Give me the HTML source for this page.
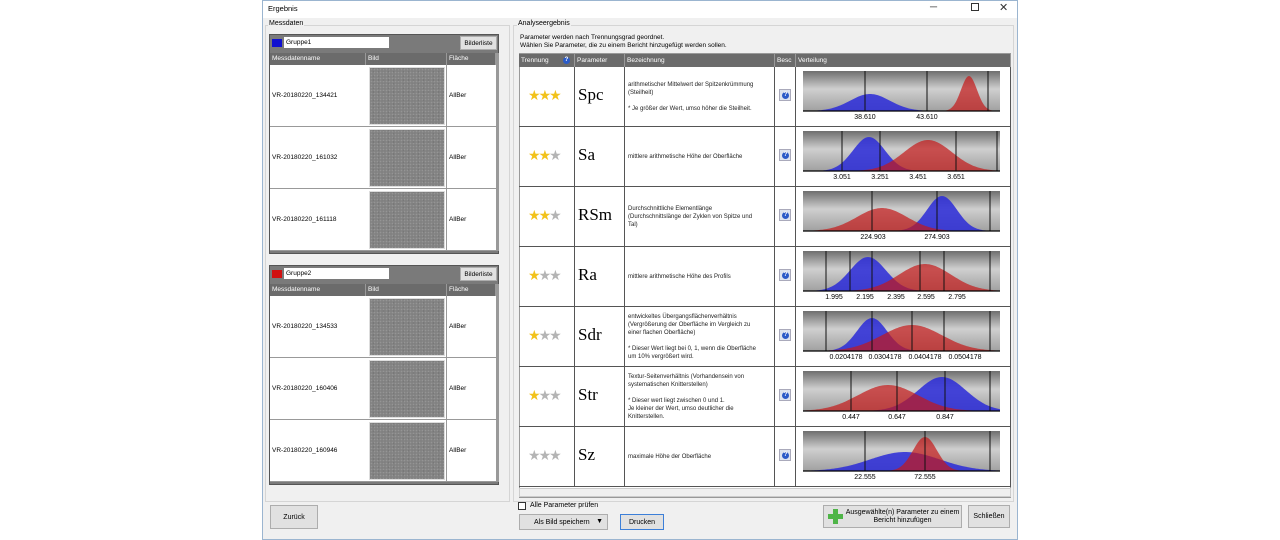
<!DOCTYPE html>
<html><head><meta charset="utf-8">
<style>
*{margin:0;padding:0;box-sizing:border-box}
body{width:1280px;height:540px;background:#fff;position:relative;overflow:hidden;font-family:"Liberation Sans",sans-serif;font-size:7px;color:#000}
.a{position:absolute}
.win{left:262px;top:0;width:756px;height:540px;background:#f0f0f0;border:1px solid #9bb5d0}
.btn{position:absolute;background:#e1e1e1;border:1px solid #adadad;text-align:center;font-size:7px;display:flex;align-items:center;justify-content:center}
.grp{position:absolute;border:1px solid #d5d5d5}
.hdr{position:absolute;background:#6b6b6b;color:#fff;font-size:6.5px;line-height:11px;padding-left:2px;border-right:1px solid #999}
.cell{position:absolute;background:#fff;border:1px solid #6b6b6b}
.img{position:absolute;background:#828282;background-image:radial-gradient(#959595 0.7px,transparent 0.9px),radial-gradient(#6e6e6e 0.7px,transparent 0.9px);background-size:3px 3px,5px 4px;background-position:0 0,1px 2px;border:1px solid #ddd}
.q{position:absolute;width:12px;height:12px;background:#dde4ee;border:1px solid #aab;}
.q:after{content:"?";position:absolute;left:2px;top:2px;width:7px;height:7px;border-radius:50%;background:#2a5bc8;color:#fff;font-size:6px;line-height:7px;text-align:center;font-weight:bold}
</style></head><body>
<div class="a win"></div>
<div class="a" style="left:263px;top:1px;width:754px;height:17px;background:#fff"></div>
<div class="a" style="left:268px;top:4px;font-size:7.5px">Ergebnis</div>
<div class="a" style="left:930px;top:2px;font-size:10px;color:#333">─</div>
<div class="a" style="left:971px;top:3px;width:8px;height:8px;border:1px solid #333"></div>
<div class="a" style="left:999px;top:1px;font-size:11px;color:#333">✕</div>

<div class="grp" style="left:265px;top:25px;width:245px;height:477px"></div>
<div class="a" style="left:268px;top:20px;font-size:7px;background:#f0f0f0;padding:0 1px">Messdaten</div>
<div class="grp" style="left:513px;top:25px;width:501px;height:477px"></div>
<div class="a" style="left:517px;top:20px;font-size:7px;background:#f0f0f0;padding:0 1px">Analyseergebnis</div>

<div id="left"></div>

<div class="a" style="left:520px;top:34px;font-size:6.5px;line-height:8px">Parameter werden nach Trennungsgrad geordnet.<br>Wählen Sie Parameter, die zu einem Bericht hinzugefügt werden sollen.</div>
<div class="a" style="left:519px;top:53px;width:492px;height:445px;background:#fff;border:1px solid #999"></div>
<div id="tbl"></div>
<div class="a" style="left:519px;top:488px;width:492px;height:9px;background:#f0f0f0;border:1px solid #ccc"></div>

<div class="btn" style="left:270px;top:505px;width:48px;height:24px">Zurück</div>
<div class="a" style="left:518px;top:502px;width:8px;height:8px;border:1px solid #333;background:#fff"></div>
<div class="a" style="left:530px;top:502px;font-size:7px">Alle Parameter prüfen</div>
<div class="btn" style="left:519px;top:514px;width:89px;height:16px;justify-content:flex-start;padding-left:14px">Als Bild speichern<span style="position:absolute;right:4px;top:3px;font-size:7px">▼</span></div>
<div class="btn" style="left:620px;top:514px;width:44px;height:16px;border-color:#3c7fd8">Drucken</div>
<div class="btn" style="left:823px;top:505px;width:139px;height:23px;padding-left:20px;line-height:8px">Ausgewählte(n) Parameter zu einem<br>Bericht hinzufügen</div>
<div class="a" style="left:828px;top:509px;width:15px;height:15px">
<div class="a" style="left:5px;top:0;width:5px;height:15px;background:#4fb548"></div>
<div class="a" style="left:0;top:5px;width:15px;height:5px;background:#4fb548"></div></div>
<div class="btn" style="left:968px;top:505px;width:42px;height:23px">Schließen</div>

<script>
var L=document.getElementById('left'),h='';
function group(top,color,name,rows){
 h+='<div class="a" style="left:269px;top:'+top+'px;width:230px;height:'+(rows.length*62+34)+'px;background:#7a7a7a;border:1px solid #555"></div>';
 h+='<div class="a" style="left:272px;top:'+(top+5)+'px;width:10px;height:8px;background:'+color+'"></div>';
 h+='<div class="a" style="left:284px;top:'+(top+3)+'px;width:105px;height:11px;background:#fff;font-size:6.5px;line-height:11px;padding-left:2px">'+name+'</div>';
 h+='<div class="btn" style="left:460px;top:'+(top+2)+'px;width:37px;height:14px;font-size:6.5px">Bilderliste</div>';
 var ty=top+19;
 h+='<div class="hdr" style="left:270px;top:'+ty+'px;width:96px;height:12px">Messdatenname</div>';
 h+='<div class="hdr" style="left:366px;top:'+ty+'px;width:81px;height:12px">Bild</div>';
 h+='<div class="hdr" style="left:447px;top:'+ty+'px;width:49px;height:12px">Fläche</div>';
 h+='<div class="a" style="left:496px;top:'+ty+'px;width:3px;height:'+(rows.length*62+12)+'px;background:#999"></div>';
 rows.forEach(function(r,i){var y=ty+12+i*62;
  h+='<div class="cell" style="left:270px;top:'+y+'px;width:97px;height:62px;border:none;border-right:1px solid #999;border-bottom:1px solid #999"></div>';
  h+='<div class="a" style="left:272px;top:'+(y+27)+'px;font-size:6.5px">'+r+'</div>';
  h+='<div class="cell" style="left:366px;top:'+y+'px;width:81px;height:62px;border:none;border-right:1px solid #999;border-bottom:1px solid #999"></div>';
  h+='<div class="img" style="left:369px;top:'+(y+2)+'px;width:76px;height:58px"></div>';
  h+='<div class="cell" style="left:447px;top:'+y+'px;width:49px;height:62px;border:none;border-bottom:1px solid #999"></div>';
  h+='<div class="a" style="left:449px;top:'+(y+27)+'px;font-size:6.5px">AllBer</div>';
 });
}
group(34,'#1010d0','Gruppe1',['VR-20180220_134421','VR-20180220_161032','VR-20180220_161118']);
group(265,'#d01010','Gruppe2',['VR-20180220_134533','VR-20180220_160406','VR-20180220_160946']);
L.innerHTML=h;

var T=document.getElementById('tbl');h='';
var cols=[[519,56,'Trennung'],[575,50,'Parameter'],[625,150,'Bezeichnung'],[775,21,'Besc'],[796,215,'Verteilung']];
cols.forEach(function(c){h+='<div class="hdr" style="left:'+c[0]+'px;top:54px;width:'+c[1]+'px;height:13px;line-height:13px">'+c[2]+'</div>'});
h+='<div class="q" style="left:561px;top:55px;width:10px;height:10px;background:none;border:none"></div>';
var rows=[
['Spc',3,'arithmetischer Mittelwert der Spitzenkrümmung<br>(Steilheit)<br><br>* Je größer der Wert, umso höher die Steilheit.'],
['Sa',2,'mittlere arithmetische Höhe der Oberfläche'],
['RSm',2,'Durchschnittliche Elementlänge<br>(Durchschnittslänge der Zyklen von Spitze und<br>Tal)'],
['Ra',1,'mittlere arithmetische Höhe des Profils'],
['Sdr',1,'entwickeltes Übergangsflächenverhältnis<br>(Vergrößerung der Oberfläche im Vergleich zu<br>einer flachen Oberfläche)<br><br>* Dieser Wert liegt bei 0, 1, wenn die Oberfläche<br>um 10% vergrößert wird.'],
['Str',1,'Textur-Seitenverhältnis (Vorhandensein von<br>systematischen Knitterstellen)<br><br>* Dieser wert liegt zwischen 0 und 1.<br>Je kleiner der Wert, umso deutlicher die<br>Knitterstellen.'],
['Sz',0,'maximale Höhe der Oberfläche']];
var ch=[
{l:[865,927,988],t:[['38.610',865],['43.610',927]],b:[870,20,17],r:[969,8,35]},
{l:[842,880,956,997],t:[['3.051',842],['3.251',880],['3.451',918],['3.651',956]],b:[869,16,34],r:[928,24,31]},
{l:[872,937,990],t:[['224.903',873],['274.903',937]],b:[942,15,35],r:[882,25,23]},
{l:[826,850,872,920,944,990],t:[['1.995',834],['2.195',865],['2.395',896],['2.595',926],['2.795',957]],b:[868,18,34],r:[925,26,27]},
{l:[826,872,912,944,990],t:[['0.0204178',846],['0.0304178',885],['0.0404178',925],['0.0504178',965]],b:[872,15,33],r:[912,30,26]},
{l:[851,897,945,990],t:[['0.447',851],['0.647',897],['0.847',945]],b:[942,24,34],r:[888,30,26]},
{l:[865,925,990],t:[['22.555',865],['72.555',925]],b:[905,35,19],r:[925,12,34]}];
var svg='<svg class="a" style="left:0;top:0" width="1280" height="540"><defs><linearGradient id="g" x1="0" y1="0" x2="0" y2="1"><stop offset="0" stop-color="#6e6e6e"/><stop offset="0.45" stop-color="#cfcfcf"/><stop offset="1" stop-color="#a0a0a0"/></linearGradient></defs>';
function gp(y0,p){var d='M803 '+y0;for(var x=803;x<=1000;x+=1){var v=p[2]*Math.exp(-Math.pow((x-p[0])/p[1],2)/2);d+=' L'+x+' '+(y0-v).toFixed(1)}return d+' L1000 '+y0+' Z'}
rows.forEach(function(r,i){var y=67+i*60;
 cols.forEach(function(c){h+='<div class="a" style="left:'+c[0]+'px;top:'+y+'px;width:'+c[1]+'px;height:60px;border-right:1.5px solid #555;border-bottom:1.5px solid #555"></div>'});
 var st='';for(var k=0;k<3;k++)st+='<span style="color:'+(k<r[1]?'#f2c21a':'#b4b4b4')+'">★</span>';
 h+='<div class="a" style="left:528px;top:'+(y+20)+'px;font-size:14px;letter-spacing:-2px">'+st+'</div>';
 h+='<div class="a" style="left:578px;top:'+(y+18)+'px;font-family:\'Liberation Serif\',serif;font-size:17px">'+r[0]+'</div>';
 var nl=(r[2].match(/<br>/g)||[]).length+1;
 h+='<div class="a" style="left:628px;top:'+(y+30-nl*4)+'px;font-size:6px;line-height:8px;color:#222">'+r[2]+'</div>';
 h+='<div class="q" style="left:779px;top:'+(y+22)+'px"></div>';
 var c=ch[i],y0=y+44;
 svg+='<rect x="803" y="'+(y+4)+'" width="197" height="40" fill="url(#g)"/>';
 svg+='<path d="'+gp(y0,c.b)+'" fill="#2a2ad8" fill-opacity="0.85"/>';
 svg+='<path d="'+gp(y0,c.r)+'" fill="#c41818" fill-opacity="0.7"/>';
 c.l.forEach(function(x){svg+='<line x1="'+x+'" y1="'+(y+4)+'" x2="'+x+'" y2="'+y0+'" stroke="#111" stroke-width="1"/>'});
 svg+='<line x1="803" y1="'+y0+'" x2="1000" y2="'+y0+'" stroke="#000" stroke-width="1.2"/>';
 c.t.forEach(function(t){svg+='<text x="'+t[1]+'" y="'+(y+52)+'" font-size="7" text-anchor="middle" font-family="Liberation Sans">'+t[0]+'</text>'});
});
svg+='</svg>';
T.innerHTML=h+svg;
</script>
</body></html>
